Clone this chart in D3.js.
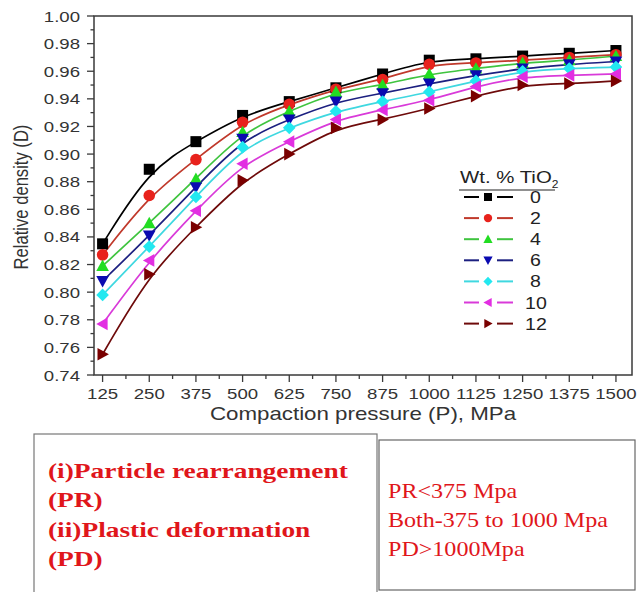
<!DOCTYPE html>
<html><head><meta charset="utf-8">
<script src="https://cdn.jsdelivr.net/npm/d3@7"></script>
<style>body{margin:0;background:#fff}svg{display:block}</style>
</head><body>
<script>
const pressures = [125,250,375,500,625,750,875,1000,1125,1250,1375,1500];
const seriesNames = ["0","2","4","6","8","10","12"];
const d0  = [0.835,0.889,0.909,0.928,0.938,0.948,0.958,0.968,0.969,0.971,0.973,0.975];
const d2  = [0.827,0.870,0.896,0.923,0.936,0.947,0.954,0.965,0.966,0.968,0.970,0.972];
const d4  = [0.819,0.850,0.882,0.916,0.931,0.945,0.950,0.958,0.962,0.966,0.968,0.971];
const d6  = [0.808,0.841,0.876,0.911,0.925,0.938,0.944,0.951,0.957,0.962,0.965,0.967];
const d8  = [0.798,0.833,0.869,0.905,0.919,0.931,0.938,0.945,0.953,0.960,0.962,0.963];
const d10 = [0.777,0.823,0.859,0.893,0.909,0.925,0.932,0.939,0.949,0.956,0.957,0.958];
const d12 = [0.755,0.813,0.847,0.881,0.900,0.919,0.925,0.933,0.942,0.950,0.951,0.953];
const yTicks = [0.74,0.76,0.78,0.80,0.82,0.84,0.86,0.88,0.90,0.92,0.94,0.96,0.98,1.00];
const legendTitle = "Wt. % TiO";
const boxLeftLines = ["(i)Particle rearrangement","(PR)","(ii)Plastic deformation","(PD)"];
const boxRightLines = ["PR<375 Mpa","Both-375 to 1000 Mpa","PD>1000Mpa"];

const allSeries = [d0,d2,d4,d6,d8,d10,d12];
const lineColors = ["#000000","#c0392b","#3fc43f","#1c2080","#3fd8e0","#d93ad9","#6e0a0a"];
const fillColors = ["#000000","#e8221c","#22dd22","#0a0ab0","#22e8f0","#e22ee2","#7a0000"];
const symbols = ["square","circle","tri-up","tri-down","diamond","tri-left","tri-right"];

const W=644,H=592, SX=1.2;
const svg=d3.select("body").append("svg").attr("width",W).attr("height",H);
const x=d3.scaleLinear().domain([102,1543]).range([94,632]);
const y=d3.scaleLinear().domain([0.74,1.00]).range([375,16]);
const font="'Liberation Sans', Arial, sans-serif";

function txt(parent,px,py,str,size,anchor,color,sx,fam,weight){
  return parent.append("text").attr("transform",`translate(${px},${py}) scale(${sx==null?SX:sx},1)`)
    .attr("text-anchor",anchor||"start").attr("font-family",fam||font).attr("font-size",size)
    .attr("font-weight",weight||"normal").attr("fill",color||"#333").text(str);
}

// frame
svg.append("rect").attr("x",94).attr("y",16).attr("width",538).attr("height",359)
  .attr("fill","none").attr("stroke","#3a3a3a").attr("stroke-width",1.5);

// y axis
const yMinor = d3.range(0.74,1.0001,0.01);
svg.append("g").selectAll("line").data(yMinor).join("line")
  .attr("x1",94).attr("x2",d=>Math.abs(Math.round(d*100)%2)===0?87:90.5)
  .attr("y1",d=>y(d)).attr("y2",d=>y(d)).attr("stroke","#3a3a3a").attr("stroke-width",1.3);
const yg=svg.append("g");
yTicks.forEach(v=>txt(yg,80,y(v)+5.5,d3.format(".2f")(v),15.5,"end"));

// x axis
const xMinor = d3.range(125,1501,62.5);
svg.append("g").selectAll("line").data(xMinor).join("line")
  .attr("x1",d=>x(d)).attr("x2",d=>x(d)).attr("y1",375)
  .attr("y2",(d,i)=>i%2===0?382:379).attr("stroke","#3a3a3a").attr("stroke-width",1.3);
const xg=svg.append("g");
pressures.forEach(p=>txt(xg,x(p),398.5,String(p),15.5,"middle"));

txt(svg,363,420,"Compaction pressure (P), MPa",18.6,"middle","#333",1.2);
svg.append("text").attr("transform","translate(28,197) rotate(-90) scale(1,1.2)").attr("text-anchor","middle")
  .attr("font-family",font).attr("font-size",16.6).attr("fill","#333").text("Relative density (D)");

function sym(g,type,cx,cy,s,fill){
  const r=s/2;
  let p;
  if(type==="square"){g.append("rect").attr("x",cx-r).attr("y",cy-r).attr("width",s).attr("height",s).attr("fill",fill);return;}
  if(type==="circle"){g.append("circle").attr("cx",cx).attr("cy",cy).attr("r",r*1.05).attr("fill",fill);return;}
  const k=r*1.15;
  if(type==="tri-up") p=[[cx,cy-k],[cx+k,cy+k*0.8],[cx-k,cy+k*0.8]];
  if(type==="tri-down") p=[[cx,cy+k],[cx+k,cy-k*0.8],[cx-k,cy-k*0.8]];
  if(type==="tri-left") p=[[cx-k,cy],[cx+k*0.8,cy-k],[cx+k*0.8,cy+k]];
  if(type==="tri-right") p=[[cx+k,cy],[cx-k*0.8,cy-k],[cx-k*0.8,cy+k]];
  if(type==="diamond") p=[[cx,cy-k],[cx+k,cy],[cx,cy+k],[cx-k,cy]];
  g.append("polygon").attr("points",p.map(q=>q.join(",")).join(" ")).attr("fill",fill);
}

const line=d3.line().x((d,i)=>x(pressures[i])).y(d=>y(d)).curve(d3.curveBasis);
const plot=svg.append("g");
allSeries.forEach((s,k)=>{
  plot.append("path").attr("d",line(s)).attr("fill","none").attr("stroke",lineColors[k]).attr("stroke-width",1.7);
});
allSeries.forEach((s,k)=>{
  const g=plot.append("g");
  s.forEach((v,i)=>sym(g,symbols[k],x(pressures[i]),y(v),11,fillColors[k]));
});

// legend
const lg=svg.append("g");
const tt=txt(lg,460,183,"",17,"start","#222");
tt.append("tspan").text(legendTitle);
tt.append("tspan").attr("font-size",10).attr("dy",5).text("2");
lg.append("line").attr("x1",459).attr("x2",555).attr("y1",190).attr("y2",190).attr("stroke","#222").attr("stroke-width",1.2);
seriesNames.forEach((n,k)=>{
  const yy=197+k*21.1;
  lg.append("line").attr("x1",464).attr("x2",479).attr("y1",yy).attr("y2",yy).attr("stroke",lineColors[k]).attr("stroke-width",2);
  lg.append("line").attr("x1",497).attr("x2",513).attr("y1",yy).attr("y2",yy).attr("stroke",lineColors[k]).attr("stroke-width",2);
  sym(lg,symbols[k],488,yy,8,fillColors[k]);
  txt(lg,k<5?530:525,yy+6,n,16.3,"start","#222");
});

// bottom boxes
svg.append("rect").attr("x",34).attr("y",434).attr("width",343).attr("height",170)
  .attr("fill","#fff").attr("stroke","#777").attr("stroke-width",1.2);
svg.append("rect").attr("x",379).attr("y",440).attr("width",256).attr("height",150)
  .attr("fill","#fff").attr("stroke","#666").attr("stroke-width",1.2);
const serif="'Liberation Serif','Times New Roman',serif";
const lt = boxLeftLines.map((t,i)=>txt(svg,48,478+i*29.3,t,22,"start","#e0161b",1,serif,"bold"));
const lsx = 300/lt[0].node().getComputedTextLength();
lt.forEach((t,i)=>t.attr("transform",`translate(48,${478+i*29.3}) scale(${lsx},1)`));
const rt = boxRightLines.map((t,i)=>txt(svg,388,498+i*29,t,20,"start","#e0161b",1,serif));
const rsx = 220/rt[1].node().getComputedTextLength();
rt.forEach((t,i)=>t.attr("transform",`translate(388,${498+i*29}) scale(${rsx},1)`));
</script>
</body></html>
